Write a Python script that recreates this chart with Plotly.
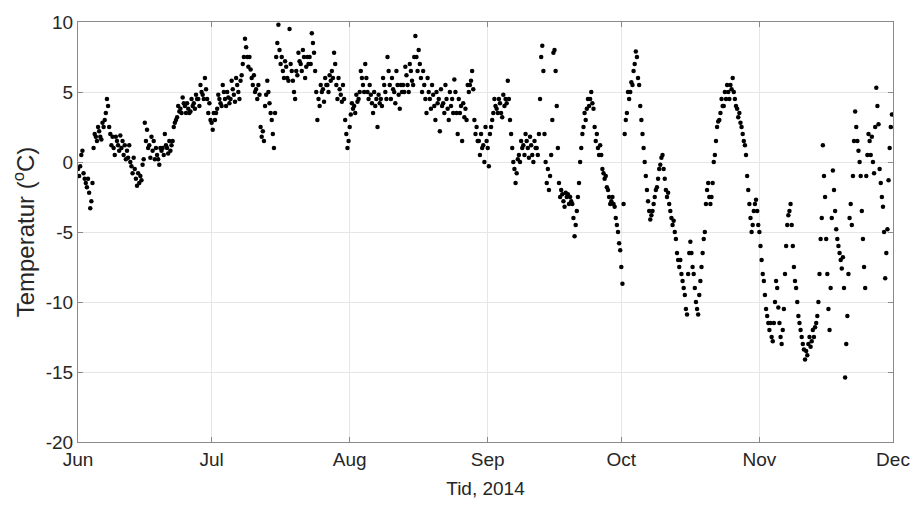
import pandas as pd
import plotly.graph_objects as go

# Temperature readings (degC), four per day (00, 06, 12, 18 h), 1 Jun - 30 Nov 2014
jun = [
    -0.5, -1.0, -0.3, 0.5,
    0.8, -0.8, -1.2, -1.5,
    -1.8, -1.2, -2.2, -3.3,
    -2.8, -1.5, 1.0, 2.0,
    1.8, 1.5, 2.5, 2.2,
    1.8, 1.6, 2.8, 2.5,
    3.0, 3.5, 4.5, 4.0,
    2.5, 2.0, 1.2, 1.8,
    1.0, 0.5, 1.8, 1.5,
    1.2, 0.8, 1.9, 1.0,
    1.5, 0.5, 1.2, 0.2,
    0.8, 0.3, 1.2, 0.0,
    -0.3, -0.8, 0.3, -0.5,
    -1.2, -1.7, -0.8, -1.5,
    -1.0, -1.3, -0.2, 0.2,
    2.8, 1.5, 2.3, 1.0,
    1.2, 0.3, 1.8, 0.8,
    1.5, 0.2, 1.0, 0.5,
    0.2, -0.2, 1.0, 0.8,
    1.0, 0.5, 2.0, 1.2,
    1.0, 0.6, 1.5, 0.8,
    1.2, 1.5, 2.5, 2.8,
    3.0, 3.2, 4.0, 3.6,
    3.8, 3.5, 4.6, 4.2,
    4.0, 3.5, 4.2, 3.8,
    3.5, 3.6, 4.5, 4.0,
    4.2, 3.8, 4.8, 4.5,
    4.5, 4.0, 5.5, 5.0,
    4.8, 4.5, 6.0, 5.2,
    4.5, 3.5, 4.2, 3.0,
]
jul = [
    2.8, 2.3, 3.5, 3.0,
    3.5, 3.8, 4.8, 4.5,
    4.2, 4.0, 5.5, 5.0,
    4.5, 4.0, 5.0, 4.6,
    4.2, 4.5, 5.8, 5.2,
    4.8, 4.3, 6.0, 5.5,
    5.0, 4.5, 5.8, 6.2,
    7.0, 7.5, 8.8, 8.2,
    7.5, 6.8, 7.5, 6.6,
    6.0, 5.5, 6.2, 5.0,
    5.2, 4.5, 5.5, 4.8,
    2.5, 1.8, 2.2, 1.5,
    4.0, 4.8, 5.8, 5.0,
    4.2, 3.5, 3.0, 2.0,
    1.0, 3.5, 7.5, 8.5,
    9.8, 8.0, 7.0, 7.5,
    6.5, 6.0, 7.2, 6.8,
    6.0, 5.8, 9.5, 7.0,
    6.5, 5.8, 5.0, 4.5,
    6.5, 6.2, 7.8, 7.2,
    7.0, 6.5, 8.0, 7.5,
    6.0, 6.8, 7.5, 7.0,
    7.5, 7.0, 9.2, 8.5,
    7.8, 6.5, 5.0, 3.0,
    4.5, 4.0, 5.5, 5.0,
    5.2, 4.3, 6.0, 5.5,
    5.5, 5.0, 6.2, 5.8,
    6.5, 6.0, 7.8, 7.0,
    5.5, 4.5, 6.0, 5.2,
    4.8, 4.3, 5.5, 4.5,
    3.0, 2.0, 1.0, 1.5,
]
aug = [
    2.5, 3.4, 4.2, 3.8,
    4.0, 3.5, 4.8, 4.3,
    4.5, 5.0, 6.5, 6.0,
    5.5, 5.0, 7.0, 6.0,
    5.0, 4.5, 5.5, 4.8,
    4.2, 3.5, 5.0, 4.0,
    4.5, 2.5, 4.8, 4.2,
    4.5, 4.0, 6.0, 5.5,
    5.0, 4.5, 7.5, 6.5,
    5.5, 4.5, 6.0, 5.2,
    5.0, 4.2, 6.5, 5.5,
    4.8, 3.8, 5.5, 5.0,
    5.5, 5.0, 6.8, 6.2,
    5.5, 5.0, 7.0, 6.5,
    5.8, 5.5, 7.5, 9.0,
    7.5, 6.5, 8.0, 7.0,
    6.0, 5.0, 6.5, 5.5,
    4.5, 3.5, 6.0, 5.0,
    4.5, 3.8, 5.5, 4.8,
    4.0, 3.0, 5.0, 4.2,
    4.5, 2.2, 5.2, 4.0,
    4.2, 3.5, 5.5, 4.5,
    3.8, 3.0, 5.0, 4.0,
    4.5, 3.5, 5.9, 5.0,
    3.5, 2.0, 4.5, 3.5,
    4.0, 1.5, 4.2, 3.2,
    3.8, 3.0, 5.5, 5.0,
    5.5, 5.8, 6.5, 5.2,
    3.0, 2.0, 2.5, 1.5,
    1.5, 0.5, 2.0, 1.0,
    1.2, 0.0, 2.5, 1.5,
]
sep = [
    1.0, -0.3, 2.0, 2.5,
    3.0, 3.5, 4.5, 4.0,
    3.8, 3.5, 4.5, 4.2,
    3.5, 3.2, 4.8, 4.0,
    4.5, 4.2, 5.8, 4.5,
    3.0, 2.0, 1.0, 0.0,
    -0.5, -1.5, -0.8, 0.2,
    0.5, 0.0, 1.5, 1.0,
    1.2, 0.5, 2.0, 1.5,
    1.0, 0.3, 1.8, 1.2,
    0.5, 0.0, 1.5, 1.0,
    1.0, 0.5, 2.0, 4.5,
    7.5, 8.3, 6.5, 2.0,
    0.0, -1.5, -0.5, -2.0,
    -1.0, 0.5, 3.0, 7.8,
    8.0, 6.5, 4.0, 1.0,
    -1.5, -2.5, -2.0, -2.3,
    -2.8, -3.2, -2.2, -2.5,
    -2.3, -3.0, -2.5, -2.8,
    -3.0, -4.0, -5.3, -4.5,
    -3.5, -2.5, -1.5, 0.0,
    1.0, 2.0, 2.5, 3.5,
    3.0, 3.8, 4.5, 4.0,
    4.5, 5.0, 4.2, 3.8,
    2.5, 1.5, 2.0, 1.0,
    0.5, 1.2, 0.5, -0.5,
    -0.8, -1.2, -1.0, -1.8,
    -2.0, -2.5, -3.0, -2.8,
    -2.5, -3.0, -3.2, -4.0,
    -4.5, -5.0, -5.8, -6.3,
]
oct_ = [
    -7.5, -8.7, -3.0, 2.0,
    3.0, 3.5, 5.0, 4.5,
    5.0, 5.7, 5.5, 6.5,
    7.0, 7.9, 7.5, 6.0,
    5.5, 4.0, 3.0, 2.0,
    1.0, 0.0, -1.0, -2.0,
    -2.8, -3.5, -4.1, -3.8,
    -3.5, -3.0, -2.5, -2.0,
    -1.8, -1.2, -0.5, -0.2,
    0.3, 0.5, -0.5, -1.2,
    -2.0, -2.5, -2.2, -3.0,
    -3.5, -4.0, -4.5, -4.2,
    -5.0, -5.5, -6.5, -7.0,
    -7.5, -7.0, -8.0, -8.5,
    -9.0, -9.5, -10.5, -10.9,
    -8.0, -6.5, -5.7, -6.5,
    -7.5, -8.0, -9.0, -10.0,
    -10.5, -10.9, -9.5, -8.5,
    -7.5, -6.5, -5.5, -5.0,
    -3.0, -2.0, -1.5, -2.5,
    -3.0, -2.5, -1.5, 0.0,
    0.5, 1.5, 2.5, 2.9,
    3.0, 3.5, 4.5, 4.0,
    4.0, 5.0, 4.5, 5.5,
    5.0, 4.5, 5.5, 5.2,
    6.0, 5.0, 4.5, 4.0,
    3.8, 3.2, 3.5, 2.8,
    2.5, 2.0, 1.5, 1.2,
    0.5, -1.0, -2.0, -3.0,
    -4.0, -5.0, -4.5, -3.5,
    -3.0, -2.7, -3.5, -4.5,
]
nov = [
    -5.0, -6.0, -7.0, -8.0,
    -8.5, -9.5, -10.5, -11.0,
    -11.5, -12.0, -11.5, -12.5,
    -12.8, -11.5, -10.0, -8.5,
    -9.0, -10.4, -11.5, -12.5,
    -13.0, -12.0, -10.5, -8.0,
    -6.0, -4.5, -3.8, -3.5,
    -3.0, -4.5, -6.0, -7.5,
    -8.5, -9.0, -10.0, -11.0,
    -11.5, -12.0, -12.5, -13.0,
    -13.4, -14.1, -13.5, -13.8,
    -13.0, -12.5, -13.2, -12.8,
    -12.0, -12.5, -11.8, -11.5,
    -11.0, -10.0, -8.0, -5.5,
    -4.0, 1.2, -1.0, -2.5,
    -5.5, -8.0, -10.5, -12.0,
    -9.0, -4.0, -0.6, -2.0,
    -3.5, -4.8, -5.5, -6.0,
    -6.5, -7.0, -7.6, -6.8,
    -9.0, -15.4, -13.0, -11.0,
    -8.0, -4.0, -3.0, -4.5,
    -1.0, 1.5, 3.6, 2.5,
    1.5, 0.8, 0.0, -1.0,
    -3.5, -5.5, -7.5, -9.0,
    -1.0, 0.5, 2.0, 1.5,
    0.5, 1.8, 0.0, -0.8,
    2.5, 5.3, 4.0, 2.7,
    -0.5, -1.5, -2.5, -3.2,
    -5.0, -8.3, -6.5, -4.8,
    -1.3, 1.0, 2.5, 3.4,
]

temps = jun + jul + aug + sep + oct_ + nov
times = pd.date_range("2014-06-01", periods=len(temps), freq="6h")

month_ticks = ["2014-06-01", "2014-07-01", "2014-08-01", "2014-09-01",
               "2014-10-01", "2014-11-01", "2014-12-01"]
month_labels = ["Jun", "Jul", "Aug", "Sep", "Oct", "Nov", "Dec"]
y_ticks = [-20, -15, -10, -5, 0, 5, 10]
y_labels = ["-20", "-15", "-10", "-5", "0", "5", "10"]

FONT = "Liberation Sans, Arial, sans-serif"

fig = go.Figure()
fig.add_trace(go.Scatter(
    x=times, y=temps, mode="markers",
    marker=dict(color="black", size=4.5, line=dict(width=0)),
    showlegend=False,
))

axis_common = dict(
    showline=True, linecolor="#8a8a8a", linewidth=1, mirror="ticks",
    ticks="inside", ticklen=5, tickcolor="#8a8a8a",
    showgrid=True, gridcolor="#e6e6e6", gridwidth=1,
    zeroline=False,
    tickfont=dict(family=FONT, size=19, color="#262626"),
)

fig.update_xaxes(
    range=["2014-06-01", "2014-12-01"],
    tickvals=month_ticks, ticktext=month_labels,
    title=dict(text="Tid, 2014", font=dict(family=FONT, size=19, color="#262626"), standoff=12),
    **axis_common,
)
fig.update_yaxes(
    range=[-20, 10],
    tickvals=y_ticks, ticktext=y_labels,
    title=dict(text="Temperatur (<sup>o</sup>C)", font=dict(family=FONT, size=24, color="#262626"), standoff=4),
    **axis_common,
)

fig.update_layout(
    width=922, height=507,
    margin=dict(l=78, r=24, t=16, b=64),
    plot_bgcolor="white", paper_bgcolor="white",
)

fig.write_html("out.html")
